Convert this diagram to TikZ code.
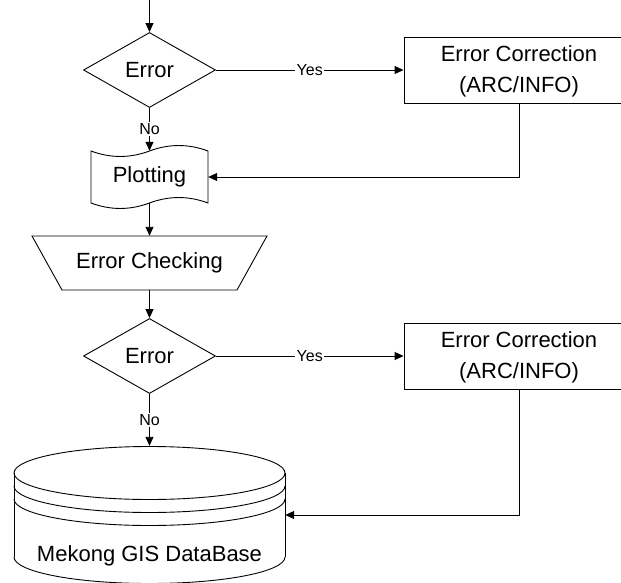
\documentclass[tikz,border=0pt]{standalone}
\usepackage{fontspec}
\setmainfont{Liberation Sans}
\usetikzlibrary{shapes.geometric,arrows.meta}
\begin{document}
\begin{tikzpicture}[x=1pt,y=-1pt,
  line/.style={line width=0.9pt},
  arr/.style={line, -{Triangle[length=9pt,width=8pt]}},
  big/.style={font=\fontsize{22}{31}\selectfont},
  small/.style={font=\fontsize{16}{18}\selectfont},
  dec/.style={diamond, draw, line width=0.9pt, minimum width=132pt, minimum height=75pt, inner sep=0pt, big},
  proc/.style={rectangle, draw, line width=0.9pt, minimum width=230pt, minimum height=66pt, align=center, big, text depth=2pt},
  lbl/.style={small, fill=white, inner sep=1.5pt}
]
\useasboundingbox (0,0) rectangle (621,583);

% nodes
\coordinate (top) at (149.5,0);
\node[dec] (d1) at (149.5,70) {Error};
\node[proc] (c1) at (519,70) {Error Correction\\(ARC/INFO)};
\node[big, inner sep=0pt, minimum width=117pt, minimum height=52pt] (plot) at (149.5,177) {Plotting};
\node[big, inner sep=0pt, minimum width=235pt, minimum height=54pt] (chk) at (149.5,263) {Error Checking};
\node[dec] (d2) at (149.5,356) {Error};
\node[proc] (c2) at (519,356) {Error Correction\\(ARC/INFO)};
\node[inner sep=0pt, minimum width=271pt, minimum height=138pt] (db) at (149.5,515) {};
\node[big] (dbtext) at (149.5,556) {Mekong GIS DataBase};

% punched tape (Plotting)
\draw[line] (91,151) .. controls (110.5,158.3) and (130,158.3) .. (149.5,151)
  .. controls (169,143.7) and (188.5,143.7) .. (208,151)
  -- (208,203)
  .. controls (188.5,195.7) and (169,195.7) .. (149.5,203)
  .. controls (130,210.3) and (110.5,210.3) .. (91,203) -- cycle;

% manual operation (Error Checking)
\draw[line] (32,236) -- (267,236) -- (237,290) -- (62,290) -- cycle;

% database cylinder
\draw[line] (14,473) .. controls (14,458.4) and (74.7,446.5) .. (149.5,446.5)
  .. controls (224.3,446.5) and (285,458.4) .. (285,473);
\foreach \Y in {473,486,499,557}{
  \draw[line] (14,\Y) .. controls (14,\Y+14.6) and (74.7,\Y+26.5) .. (149.5,\Y+26.5)
    .. controls (224.3,\Y+26.5) and (285,\Y+14.6) .. (285,\Y);
}
\draw[line] (14,473) -- (14,557);
\draw[line] (285,473) -- (285,557);

% connectors
\draw[arr] (top) -- (d1);
\draw[arr] (d1) -- node[lbl]{Yes} (c1);
\draw[arr] (d1) -- node[lbl]{No} (plot);
\draw[arr] (c1.south) |- (plot.east);
\draw[arr] (plot) -- (chk);
\draw[arr] (chk) -- (d2);
\draw[arr] (d2) -- node[lbl]{Yes} (c2);
\draw[arr] (d2) -- node[lbl]{No} (db);
\draw[arr] (c2.south) |- (db.east);
\end{tikzpicture}
\end{document}
